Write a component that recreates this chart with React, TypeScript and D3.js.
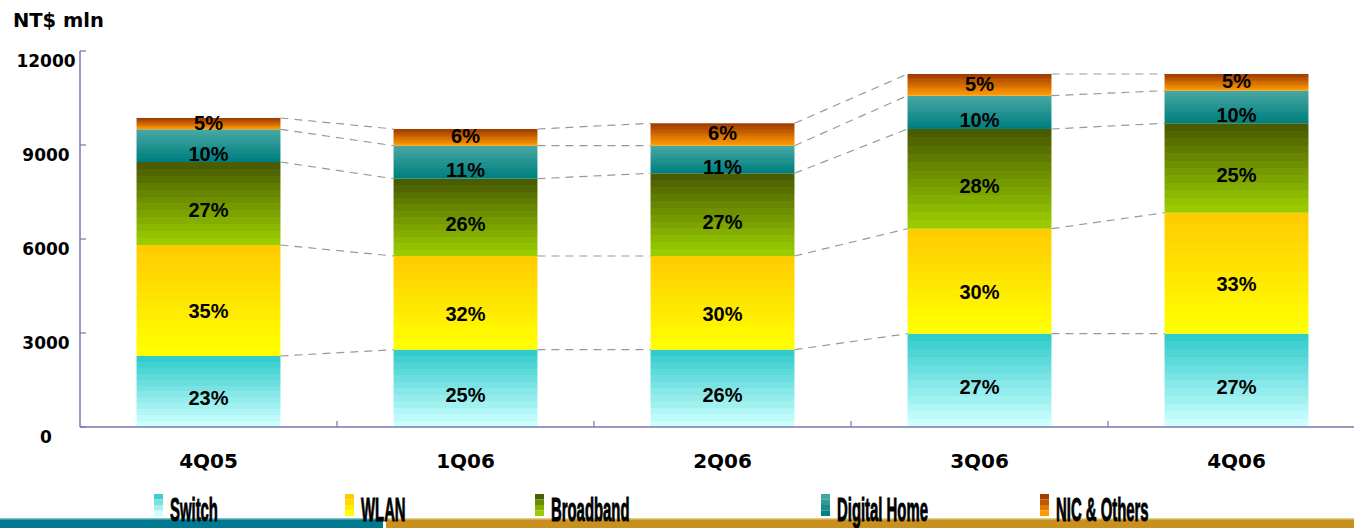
import React from "react";
import * as d3 from "d3";

const categories = ["4Q05", "1Q06", "2Q06", "3Q06", "4Q06"];
const seriesNames = ["Switch", "WLAN", "Broadband", "Digital Home", "NIC & Others"];
const switchValues = [2266, 2467, 2467, 2978, 2978];
const wlanValues = [3543, 2990, 2990, 3351, 3861];
const broadbandValues = [2648, 2468, 2640, 3182, 2854];
const digitalHomeValues = [1044, 1053, 881, 1063, 1040];
const nicValues = [361, 533, 715, 692, 533];

const switchPct = ["23%", "25%", "26%", "27%", "27%"];
const wlanPct = ["35%", "32%", "30%", "30%", "33%"];
const broadbandPct = ["27%", "26%", "27%", "28%", "25%"];
const digitalHomePct = ["10%", "11%", "11%", "10%", "10%"];
const nicPct = ["5%", "6%", "6%", "5%", "5%"];

const yTicks = [0, 3000, 6000, 9000, 12000];

const W = 1354;
const H = 528;

// style: gradient top -> bottom, label offset
const seriesStyle = [
  { top: "#33CCCC", bottom: "#CCFFFF", dy: 7, legend: ["#3CCFCF", "#7ADFDF", "#A8EEEE", "#CCFFFF"] },
  { top: "#FFCC00", bottom: "#FFFF00", dy: 11, legend: ["#FFCC00", "#FFDA00", "#FFEC00", "#FFFF00"] },
  { top: "#4A5C00", bottom: "#99CC00", dy: 7, legend: ["#4A6000", "#6A8A00", "#86AE00", "#99CC00"] },
  { top: "#46A6A2", bottom: "#008080", dy: 8, legend: ["#46A6A2", "#309898", "#1A8C8C", "#008080"] },
  { top: "#A03C00", bottom: "#FF9900", dy: -1, legend: ["#A03C00", "#C05800", "#E07A00", "#FF9900"] },
];

const legendX = [154, 345, 535, 821, 1040];

export default function App() {
  const seriesValues = [switchValues, wlanValues, broadbandValues, digitalHomeValues, nicValues];
  const seriesPct = [switchPct, wlanPct, broadbandPct, digitalHomePct, nicPct];

  const rows = categories.map((c, i) => {
    const r: any = { cat: c };
    seriesNames.forEach((s, k) => (r[s] = seriesValues[k][i]));
    return r;
  });
  const stacked = d3.stack().keys(seriesNames)(rows);

  const x = d3.scaleBand().domain(categories).range([80, 1365]).paddingInner(0.44).paddingOuter(0.22);
  const y = d3.scaleLinear().domain([0, 12000]).range([427, 51]);
  const bw = x.bandwidth();
  const step = x.step();

  const steps = 12;
  const gradients = seriesStyle.map((st, k) => {
    const interp = d3.interpolateRgb(st.top, st.bottom);
    const stops: JSX.Element[] = [];
    for (let i = 0; i < steps; i++) {
      const col = interp(i / (steps - 1));
      stops.push(<stop key={`a${i}`} offset={`${(i / steps) * 100}%`} stopColor={col} />);
      stops.push(<stop key={`b${i}`} offset={`${((i + 1) / steps) * 100}%`} stopColor={col} />);
    }
    return (
      <linearGradient key={k} id={`g${k}`} x1="0" y1="0" x2="0" y2="1">
        {stops}
      </linearGradient>
    );
  });

  const connectors: JSX.Element[] = [];
  for (let i = 0; i < categories.length - 1; i++) {
    for (let k = 0; k < seriesNames.length; k++) {
      const y1 = y(stacked[k][i][1]);
      const y2 = y(stacked[k][i + 1][1]);
      const x1 = (x(categories[i]) as number) + bw;
      const x2 = x(categories[i + 1]) as number;
      connectors.push(
        <line key={`c${i}-${k}`} x1={x1} y1={y1} x2={x2} y2={y2} stroke="#999" strokeWidth={1.2} strokeDasharray="8,6" />
      );
    }
  }

  return (
    <svg width={W} height={H} style={{ position: "absolute", left: 0, top: 0, display: "block" }}>
      <defs>{gradients}</defs>
      <rect x={0} y={0} width={W} height={H} fill="#fff" />

      <text x={13} y={27} fontFamily="DejaVu Sans" fontWeight="bold" fontSize={19.5} fill="#000">
        NT$ mln
      </text>

      {stacked.map((s, k) => (
        <g key={k}>
          {s.map((d, i) => (
            <rect
              key={i}
              x={x(categories[i])}
              y={y(d[1])}
              width={bw}
              height={y(d[0]) - y(d[1])}
              fill={`url(#g${k})`}
            />
          ))}
        </g>
      ))}

      {connectors}

      <line x1={80} y1={y(12000)} x2={80} y2={y(0)} stroke="#7878A8" strokeWidth={1.5} />
      <line x1={80} y1={y(0)} x2={W} y2={y(0)} stroke="#7878A8" strokeWidth={1.5} />
      {yTicks.map((t) => (
        <g key={t}>
          <line x1={80} x2={86} y1={y(t)} y2={y(t)} stroke="#7878A8" strokeWidth={1.2} />
          <text
            x={46}
            y={y(t) + 10}
            textAnchor="middle"
            dominantBaseline="central"
            fontFamily="DejaVu Sans"
            fontWeight="bold"
            fontSize={17}
            fill="#000"
          >
            {t}
          </text>
        </g>
      ))}
      {categories.slice(1).map((c) => {
        const xx = (x(c) as number) - (step - bw) / 2;
        return <line key={c} x1={xx} x2={xx} y1={y(0) - 6} y2={y(0)} stroke="#7878A8" strokeWidth={1.2} />;
      })}
      {categories.map((c) => (
        <text
          key={c}
          x={(x(c) as number) + bw / 2}
          y={468}
          textAnchor="middle"
          fontFamily="DejaVu Sans"
          fontWeight="bold"
          fontSize={20}
          fill="#000"
        >
          {c}
        </text>
      ))}

      {stacked.map((s, k) =>
        s.map((d, i) => (
          <text
            key={`p${k}-${i}`}
            x={(x(categories[i]) as number) + bw / 2}
            y={(y(d[0]) + y(d[1])) / 2 + seriesStyle[k].dy}
            textAnchor="middle"
            dominantBaseline="central"
            fontFamily="Liberation Sans, Arial"
            fontWeight="bold"
            fontSize={20}
            fill="#000"
          >
            {seriesPct[k][i]}
          </text>
        ))
      )}

      <rect x={0} y={519} width={383} height={9} fill="#00788F" />
      <rect x={0} y={518} width={383} height={1.5} fill="#7FC0CC" />
      <rect x={386} y={519} width={W - 386} height={9} fill="#C8901E" />
      <rect x={386} y={518} width={W - 386} height={1.5} fill="#E4CC8C" />

      {seriesNames.map((name, k) => (
        <g key={name}>
          {seriesStyle[k].legend.map((col, j) => (
            <rect key={j} x={legendX[k]} y={494 + j * 5.5} width={9} height={5.5} fill={col} />
          ))}
          <text
            transform={`translate(${legendX[k] + 16},521) scale(0.62,1.36)`}
            fontFamily="Liberation Sans, Arial"
            fontWeight="bold"
            fontSize={24}
            fill="#000"
            stroke="#000"
            strokeWidth={0.7}
          >
            {name}
          </text>
        </g>
      ))}
    </svg>
  );
}
